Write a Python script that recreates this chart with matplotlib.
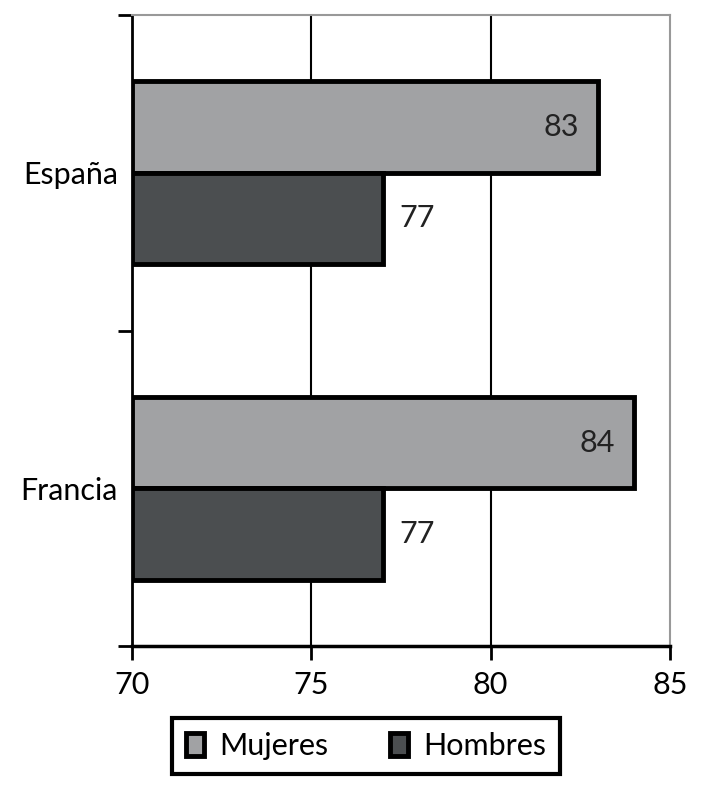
import numpy as np
import matplotlib.pyplot as plt

paises = ['España', 'Francia']
mujeres = [83, 84]
hombres = [77, 77]

plt.rcParams['font.family'] = ['Lato', 'DejaVu Sans']

fig = plt.figure(figsize=(7.2, 8), dpi=100)
ax = fig.add_axes([132/720, 1 - 646/800, (670-132)/720, (646-15)/800])

y = np.arange(len(paises))
h = 0.29
b1 = ax.barh(y - h/2, [m - 70 for m in mujeres], height=h, left=70, color='#a1a2a4',
             edgecolor='black', linewidth=3.5, label='Mujeres', zorder=3)
b2 = ax.barh(y + h/2, [v - 70 for v in hombres], height=h, left=70, color='#4b4e50',
             edgecolor='black', linewidth=3.5, label='Hombres', zorder=3)

for yi, m in zip(y, mujeres):
    ax.text(m - 0.55, yi - h/2, str(m), ha='right', va='center', fontsize=22, color='#222222', zorder=4)
for yi, v in zip(y, hombres):
    ax.text(v + 0.45, yi + h/2, str(v), ha='left', va='center', fontsize=22, color='#222222', zorder=4)

ax.set_xlim(70, 85)
ax.set_ylim(1.5, -0.5)
ax.set_xticks([70, 75, 80, 85])
ax.tick_params(axis='x', labelsize=22, length=10, width=2, direction='out', pad=8, colors='black')
ax.set_yticks([-0.5, 0.5, 1.5])
ax.set_yticklabels([])
ax.set_yticks(y, minor=True)
ax.set_yticklabels(paises, minor=True)
ax.tick_params(axis='y', which='major', length=10, width=2, direction='out')
ax.tick_params(axis='y', which='minor', length=0, labelsize=22, pad=10)

for xv in [75, 80]:
    ax.axvline(xv, color='black', linewidth=1.5, zorder=1)

ax.spines['left'].set_linewidth(2)
ax.spines['bottom'].set_linewidth(2.5)
ax.spines['top'].set_color('#999999')
ax.spines['right'].set_color('#999999')
ax.spines['top'].set_linewidth(1.5)
ax.spines['right'].set_linewidth(1.5)

leg = ax.legend(loc='upper center', bbox_to_anchor=(0.435, -0.09), ncol=2, fontsize=22,
                frameon=True, fancybox=False, edgecolor='black', framealpha=1,
                handlelength=0.6, handleheight=0.8, handletextpad=0.5,
                columnspacing=2.0, borderpad=0.45)
leg.get_frame().set_linewidth(3)

fig.savefig('out.png', dpi=100)
